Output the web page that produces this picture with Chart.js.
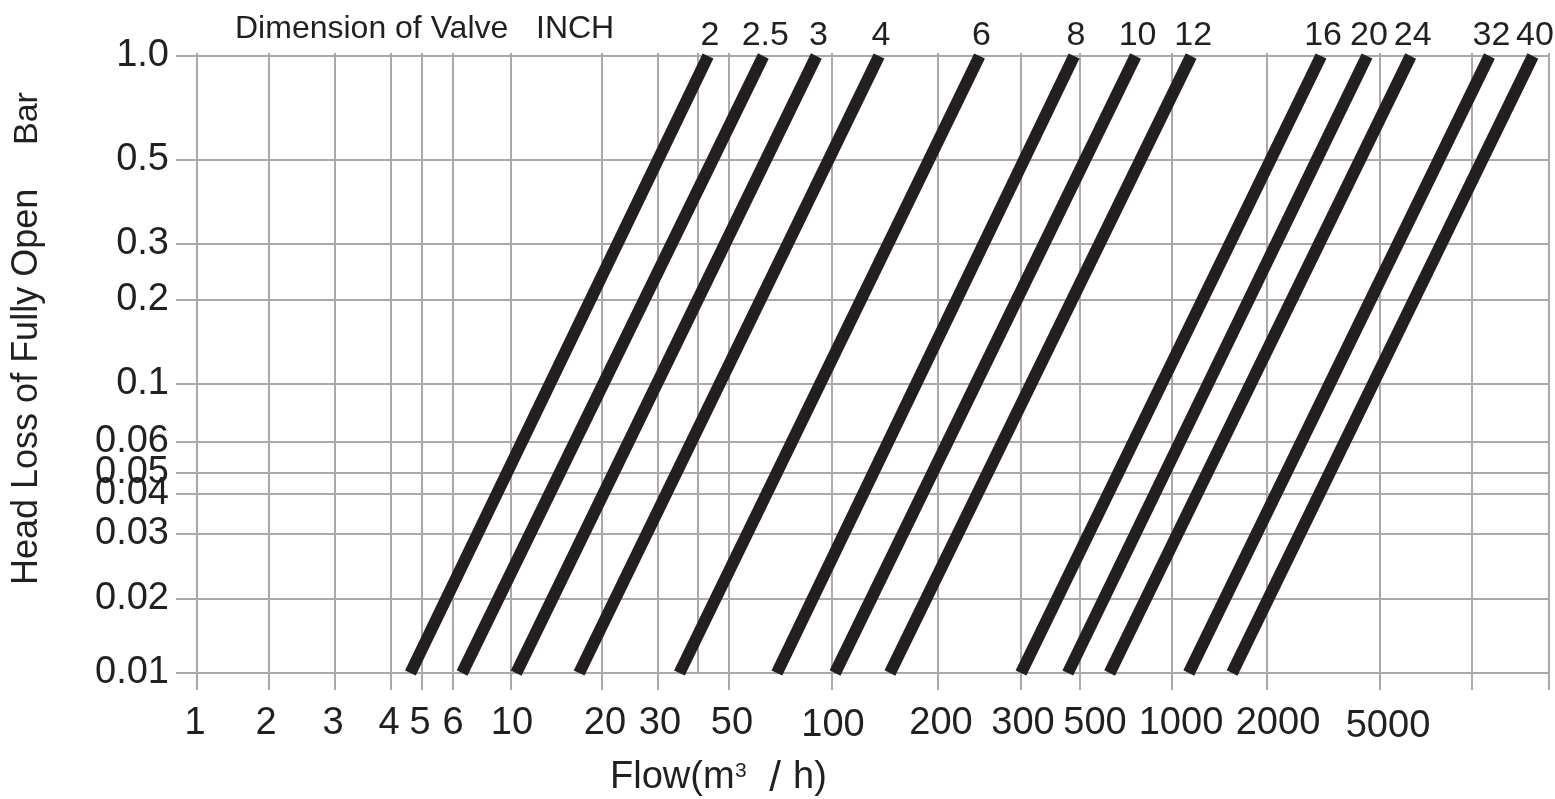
<!DOCTYPE html>
<html>
<head>
<meta charset="utf-8">
<title>Head Loss of Fully Open Valve</title>
<script src="https://cdn.jsdelivr.net/npm/chart.js@4.4.1/dist/chart.umd.min.js"></script>
<style>
  html, body { margin: 0; padding: 0; background: #fff; }
  canvas { display: block; }
</style>
</head>
<body>
<canvas id="chart" width="1555" height="799"></canvas>
<script>
// --- 1. DATA ---
const valveSizes = ['2', '2.5', '3', '4', '6', '8', '10', '12', '16', '20', '24', '32', '40'];
// flow (m3/h) at the low end (0.01 bar) and high end (1.0 bar) of each valve line
const flowAtMinLoss = [4.6, 6.5, 10.4, 16.8, 35, 69, 102, 146, 300, 450, 625, 1130, 1550];
const flowAtMaxLoss = [43, 63, 90, 136, 245, 475, 760, 1150, 3100, 4500, 6300, 11700, 17300];
const lossRange = [0.01, 1.0];

const flowTicks = [1, 2, 3, 4, 5, 6, 10, 20, 30, 40, 50, 100, 200, 300, 500, 1000, 2000, 5000, 10000, 20000];
const flowTickLabels = ['1', '2', '3', '4', '5', '6', '10', '20', '30', '', '50', '100', '200', '300', '500', '1000', '2000', '5000', '', ''];
const flowNoTick = [40];
const lossTicks = [0.01, 0.02, 0.03, 0.04, 0.05, 0.06, 0.1, 0.2, 0.3, 0.5, 1.0];
const lossTickLabels = ['0.01', '0.02', '0.03', '0.04', '0.05', '0.06', '0.1', '0.2', '0.3', '0.5', '1.0'];

// --- 2. AXIS LAYOUT ---
// the printed sheet is not a true log grid, so each gridline sits where the sheet puts it
const xGridAt = [197, 269, 335, 391, 422, 453, 511, 602, 658, 698, 729, 832, 938, 1021, 1080, 1172, 1267, 1380, 1472, 1549];
const xFrame = [197, 1549];
const yGridAt = [673, 599, 534, 494, 473, 442, 384, 300, 244, 160, 56];
const yFrame = [673, 53];
// the sheet's flow labels are not all centred on their gridline
const flowLabelNudge = [-2, -3, -2, -2, -2, 0, 1, 3, 2, 0, 3, 1, 3, 2, 15, 9, 11, 8, 0, 0];
const flowLabelDrop = [0, 0, 0, 0, 0, 0, 0, 0, 0, 0, 0, 2, 0, 0, 0, 0, 0, 3, 0, 0];

const INK = '#231f20';
const GRID = '#a7a9ac';
const FONT = '"Liberation Sans", Arial, Helvetica, sans-serif';

const AXES = {
    x: { ticks: flowTicks, at: xGridAt, frame: xFrame },
    y: { ticks: lossTicks, at: yGridAt, frame: yFrame }
};

// linear scale that maps values through the sheet's gridlines (log steps in between)
class SheetScale extends Chart.LinearScale {
    static id = 'sheet';

    getPixelForValue(value) {
        if (value === null || isNaN(value)) return NaN;
        const a = AXES[this.axis];
        const t = a.ticks;
        let i = 0;
        while (i < t.length - 2 && value > t[i + 1]) i++;
        const f = Math.log(value / t[i]) / Math.log(t[i + 1] / t[i]);
        const ref = a.at[i] + f * (a.at[i + 1] - a.at[i]);
        return this.getPixelForDecimal((ref - a.frame[0]) / (a.frame[1] - a.frame[0]));
    }

    getValueForPixel(pixel) {
        const a = AXES[this.axis];
        const ref = a.frame[0] + this.getDecimalForPixel(pixel) * (a.frame[1] - a.frame[0]);
        const dir = Math.sign(a.at[1] - a.at[0]);
        let i = 0;
        while (i < a.at.length - 2 && (ref - a.at[i + 1]) * dir > 0) i++;
        const f = (ref - a.at[i]) / (a.at[i + 1] - a.at[i]);
        return a.ticks[i] * Math.pow(a.ticks[i + 1] / a.ticks[i], f);
    }
}
Chart.register(SheetScale);

// --- 3. TEXT OUTSIDE THE AXES ---
const sheetText = {
    id: 'sheetText',
    afterDatasetsDraw(chart) {
        const ctx = chart.ctx;
        const xs = chart.scales.x;
        ctx.save();
        ctx.fillStyle = INK;
        ctx.textBaseline = 'alphabetic';

        // valve size above the top end of each line
        ctx.font = `34px ${FONT}`;
        ctx.textAlign = 'center';
        chart.data.datasets.forEach((ds, i) => {
            const pts = chart.getDatasetMeta(i).data;
            const top = pts[pts.length - 1];
            ctx.fillText(ds.label, top.x + 2, top.y - 11);
        });

        // flow tick labels, placed off the x scale
        ctx.font = `38px ${FONT}`;
        flowTicks.forEach((v, i) => {
            if (!flowTickLabels[i]) return;
            ctx.fillText(flowTickLabels[i], xs.getPixelForValue(v) + flowLabelNudge[i], xs.top + 61 + flowLabelDrop[i]);
        });

        // header
        ctx.font = `32px ${FONT}`;
        ctx.textAlign = 'left';
        ctx.fillText('Dimension of Valve', 235, 38);
        ctx.fillText('INCH', 536, 38);

        // x title: Flow(m3/h)
        ctx.font = `38px ${FONT}`;
        ctx.fillText('Flow(m', 610, 788);
        ctx.font = `21px ${FONT}`;
        ctx.fillText('3', 735, 777);
        ctx.font = `42px ${FONT}`;
        ctx.textAlign = 'center';
        ctx.fillText('/', 775, 791);
        ctx.font = `38px ${FONT}`;
        ctx.textAlign = 'left';
        ctx.fillText('h)', 793, 788);

        // y title
        ctx.font = `36px ${FONT}`;
        ctx.translate(37, 585);
        ctx.rotate(-Math.PI / 2);
        ctx.fillText('Head Loss of Fully Open', 0, 0);
        ctx.font = `34px ${FONT}`;
        ctx.fillText('Bar', 585 - 145, 0);
        ctx.restore();
    }
};

// --- 4. CHART ---
const datasets = valveSizes.map((size, i) => ({
    label: size,
    data: [
        { x: flowAtMinLoss[i], y: lossRange[0] },
        { x: flowAtMaxLoss[i], y: lossRange[1] }
    ],
    borderColor: INK,
    borderWidth: 12,
    borderCapStyle: 'butt',
    pointRadius: 0,
    fill: false,
    clip: false
}));

new Chart(document.getElementById('chart'), {
    type: 'line',
    data: { datasets },
    options: {
        responsive: false,
        animation: false,
        events: [],
        layout: { padding: { top: 53, right: 6, bottom: 0, left: 0 } },
        plugins: {
            legend: { display: false },
            tooltip: { enabled: false }
        },
        scales: {
            x: {
                type: 'sheet',
                position: 'bottom',
                min: 1,
                max: 20000,
                afterBuildTicks: s => { s.ticks = flowTicks.map(v => ({ value: v })); },
                afterFit: s => { s.height = 126; },
                ticks: {
                    display: false,
                    autoSkip: false,
                    maxRotation: 0,
                    minRotation: 0
                },
                grid: {
                    color: GRID,
                    lineWidth: 2,
                    tickLength: 17,
                    tickWidth: 2,
                    tickColor: c => flowNoTick.includes(flowTicks[c.index]) ? 'rgba(0,0,0,0)' : GRID
                },
                border: { display: false }
            },
            y: {
                type: 'sheet',
                position: 'left',
                min: 0.01,
                max: 1.0,
                afterBuildTicks: s => { s.ticks = lossTicks.map(v => ({ value: v })); },
                afterFit: s => { s.width = 197; },
                ticks: {
                    autoSkip: false,
                    padding: 7,
                    color: INK,
                    font: { family: FONT, size: 38 },
                    callback: (v, i) => lossTickLabels[i]
                },
                grid: {
                    color: GRID,
                    lineWidth: 2,
                    tickLength: 21,
                    tickWidth: 2,
                    tickColor: GRID
                },
                border: { display: false }
            }
        }
    },
    plugins: [sheetText]
});
</script>
</body>
</html>
